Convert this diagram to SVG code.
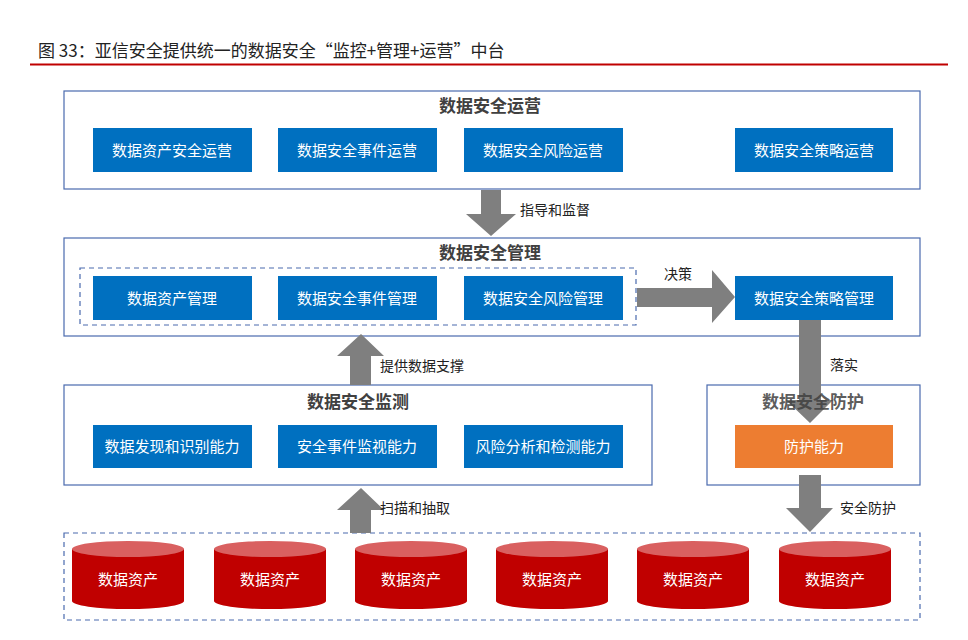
<svg xmlns="http://www.w3.org/2000/svg" width="968" height="640" viewBox="0 0 968 640">
<style>
text{font-family:"Liberation Sans","Noto Sans CJK SC",sans-serif}
.frame{fill:#fff;stroke:#4a6aae;stroke-width:1.2}
.dash{fill:none;stroke:#4a6aae;stroke-width:1.2;stroke-dasharray:5 4}
.blue{fill:#0070c0}
.wt{fill:#fff;font-size:15px;text-anchor:middle}
.hd{fill:#404040;font-size:17px;font-weight:bold;text-anchor:middle}
.lb{fill:#222;font-size:14px}
.arr{fill:#7f7f7f}
.cyl{fill:#c00000}
.cyltop{fill:#d96060}
</style>
<rect width="968" height="640" fill="#fff"/>
<text x="38" y="57" font-size="17" fill="#222" style="font-family:'Noto Sans CJK SC',sans-serif">图 33：亚信安全提供统一的数据安全“监控+管理+运营”中台</text>
<line x1="30" y1="64.5" x2="948" y2="64.5" stroke="#c00000" stroke-width="2"/>

<g id="ops">
<rect class="frame" x="64" y="91" width="856" height="98"/>
<text class="hd" x="490" y="112">数据安全运营</text>
<rect class="blue" x="93" y="128" width="159" height="44"/><text class="wt" x="172" y="156">数据资产安全运营</text>
<rect class="blue" x="278" y="128" width="159" height="44"/><text class="wt" x="357" y="156">数据安全事件运营</text>
<rect class="blue" x="464" y="128" width="159" height="44"/><text class="wt" x="543" y="156">数据安全风险运营</text>
<rect class="blue" x="735" y="128" width="158" height="44"/><text class="wt" x="814" y="156">数据安全策略运营</text>
</g>

<g id="mgmt">
<rect class="frame" x="64" y="238" width="856" height="98"/>
<text class="hd" x="490" y="259">数据安全管理</text>
<rect class="dash" x="80" y="268" width="556" height="57"/>
<rect class="blue" x="93" y="276" width="159" height="44"/><text class="wt" x="172" y="304">数据资产管理</text>
<rect class="blue" x="278" y="276" width="159" height="44"/><text class="wt" x="357" y="304">数据安全事件管理</text>
<rect class="blue" x="464" y="276" width="159" height="44"/><text class="wt" x="543" y="304">数据安全风险管理</text>
<rect class="blue" x="735" y="276" width="158" height="44"/><text class="wt" x="814" y="304">数据安全策略管理</text>
</g>

<g id="monitor">
<rect class="frame" x="64" y="385" width="588" height="100"/>
<text class="hd" x="358" y="408">数据安全监测</text>
<rect class="blue" x="93" y="425" width="159" height="43"/><text class="wt" x="172" y="452">数据发现和识别能力</text>
<rect class="blue" x="278" y="425" width="159" height="43"/><text class="wt" x="357" y="452">安全事件监视能力</text>
<rect class="blue" x="464" y="425" width="159" height="43"/><text class="wt" x="543" y="452">风险分析和检测能力</text>
</g>

<g id="protect">
<rect class="frame" x="707" y="385" width="213" height="100"/>
<rect x="735" y="425" width="158" height="43" fill="#ed7d31"/><text class="wt" x="814" y="452">防护能力</text>
</g>

<g id="assets">
<rect class="dash" x="64" y="533" width="856" height="87"/>
<g id="cyls">
<path class="cyl" d="M72 549v52a56 8 0 0 0 112 0v-52z"/><ellipse class="cyltop" cx="128" cy="549" rx="56" ry="8"/><text class="wt" x="128" y="585">数据资产</text>
<path class="cyl" d="M214 549v52a56 8 0 0 0 112 0v-52z"/><ellipse class="cyltop" cx="270" cy="549" rx="56" ry="8"/><text class="wt" x="270" y="585">数据资产</text>
<path class="cyl" d="M355 549v52a56 8 0 0 0 112 0v-52z"/><ellipse class="cyltop" cx="411" cy="549" rx="56" ry="8"/><text class="wt" x="411" y="585">数据资产</text>
<path class="cyl" d="M496 549v52a56 8 0 0 0 112 0v-52z"/><ellipse class="cyltop" cx="552" cy="549" rx="56" ry="8"/><text class="wt" x="552" y="585">数据资产</text>
<path class="cyl" d="M637 549v52a56 8 0 0 0 112 0v-52z"/><ellipse class="cyltop" cx="693" cy="549" rx="56" ry="8"/><text class="wt" x="693" y="585">数据资产</text>
<path class="cyl" d="M779 549v52a56 8 0 0 0 112 0v-52z"/><ellipse class="cyltop" cx="835" cy="549" rx="56" ry="8"/><text class="wt" x="835" y="585">数据资产</text>
</g>
</g>

<g id="connectors">
<polygon class="arr" points="481,190 501,190 501,214 516,214 491,236 466,214 481,214"/>
<text class="lb" x="520" y="215">指导和监督</text>
<polygon class="arr" points="637,288 712,288 712,270 735,297 712,323 712,307 637,307"/>
<text class="lb" x="664" y="279">决策</text>
<polygon class="arr" points="799,320 821,320 821,400 833,400 810,423 786,400 799,400"/>
<text class="lb" x="830" y="370">落实</text>
<polygon class="arr" points="350,385 371,385 371,356 384,356 361,334 337,356 350,356"/>
<text class="lb" x="380" y="371">提供数据支撑</text>
<polygon class="arr" points="799,475 821,475 821,508 833,508 810,532 786,508 799,508"/>
<text class="lb" x="840" y="513">安全防护</text>
<polygon class="arr" points="350,533 371,533 371,510 384,510 361,488 337,510 350,510"/>
<text class="lb" x="380" y="513">扫描和抽取</text>
</g>
<text class="hd" x="813" y="408" fill-opacity="0.85">数据安全防护</text>
</svg>
